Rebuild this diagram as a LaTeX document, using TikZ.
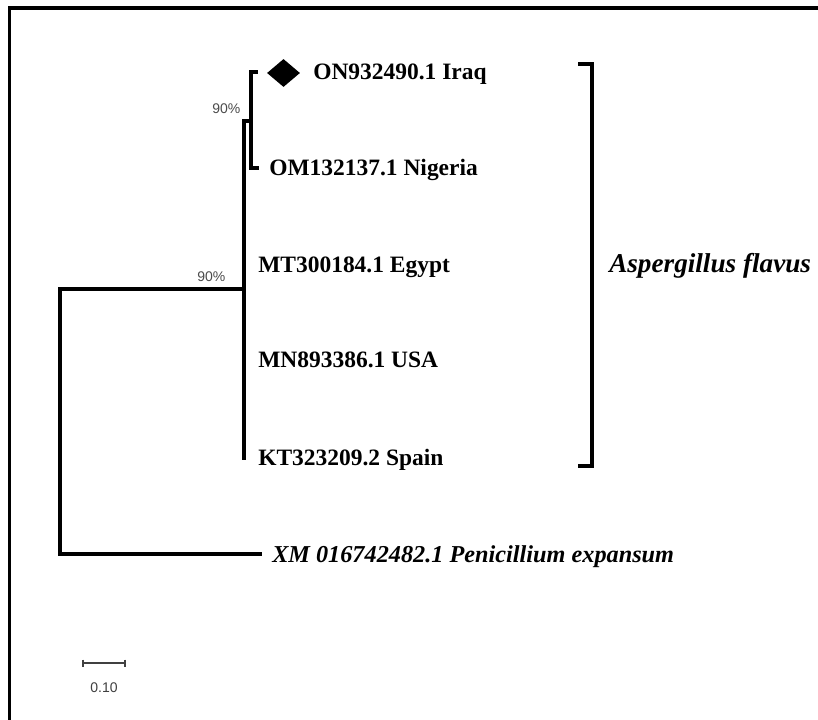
\documentclass[tikz,border=0pt]{standalone}
\usepackage{fontspec}
\setmainfont{Liberation Serif}
\newfontfamily\pctfont{Liberation Sans}
\usetikzlibrary{shapes.geometric}
\begin{document}
\begin{tikzpicture}[x=0.75pt,y=-0.75pt,
  branch/.style={line width=2.8pt,line cap=rect},
  frameline/.style={line width=2.6pt},
  leaf/.style={anchor=base west,inner sep=0pt,font=\fontsize{17.6pt}{20pt}\selectfont\bfseries},
  outleaf/.style={anchor=base west,inner sep=0pt,font=\fontsize{18.2pt}{20pt}\selectfont\bfseries\itshape},
  taxon/.style={anchor=base west,inner sep=0pt,font=\fontsize{20.4pt}{22pt}\selectfont\bfseries\itshape},
  boot/.style={anchor=base west,inner sep=0pt,text=black!70,font=\pctfont\fontsize{10.5pt}{12pt}\selectfont},
  marker/.style={diamond,fill=black,draw=none,inner sep=0pt,minimum width=24.75pt,minimum height=21pt}]
\useasboundingbox (0,0) rectangle (818,720);
\clip (0,0) rectangle (818,720);
\fill[white] (0,0) rectangle (818,720);
% frame (cut at right and bottom)
\draw[frameline] (9.5,730) -- (9.5,8) -- (830,8);
% internal nodes
\coordinate (root) at (60,289);
\coordinate (rootB) at (60,554);
\coordinate (clade) at (244,289);
\coordinate (cladeTop) at (244,121);
\coordinate (cladeBot) at (244,458);
\coordinate (sub) at (251,121);
\coordinate (subTop) at (251,72);
\coordinate (subBot) at (251,168);
\coordinate (tIraq) at (256,72);
\coordinate (tNig) at (257,168);
\coordinate (tPen) at (260,554);
% leaves
\node[leaf] (iraq) at (313,80) {ON932490.1 Iraq};
\node[leaf] (nig) at (269,176) {OM132137.1 Nigeria};
\node[leaf] (egy) at (258,273) {MT300184.1 Egypt};
\node[leaf] (usa) at (258,368) {MN893386.1 USA};
\node[leaf] (spa) at (258,465) {KT323209.2 Spain};
\node[outleaf] (pen) at (272,562) {XM 016742482.1 Penicillium expansum};
\node[marker] (dia) at (283.5,73) {};
% branches
\draw[branch] (clade) -- (root) -- (rootB) -- (tPen);
\draw[branch] (cladeTop) -- (cladeBot);
\draw[branch] (cladeTop) -- (sub);
\draw[branch] (tIraq) -- (subTop) -- (subBot) -- (tNig);
% bootstrap values
\node[boot] (b1) at (212,114) {90\%};
\node[boot] (b2) at (197,282) {90\%};
% clade bracket
\coordinate (brT) at (578,64);
\coordinate (brB) at (578,466);
\draw[line width=2.8pt] (brT) -- (592,64) -- (592,466) -- (brB);
\node[taxon] (asp) at (609,273) {Aspergillus flavus};
% scale bar
\coordinate (sbL) at (83,663);
\coordinate (sbR) at (125,663);
\draw[line width=1.3pt,black!75] (sbL) -- (sbR);
\draw[line width=1.1pt,black!75] (83,659.5) -- (83,666.5) (125,659.5) -- (125,666.5);
\node[inner sep=0pt,text=black!75,font=\pctfont\fontsize{10.5pt}{12pt}\selectfont] (sbt) at (104,688) {0.10};
\end{tikzpicture}
\end{document}
